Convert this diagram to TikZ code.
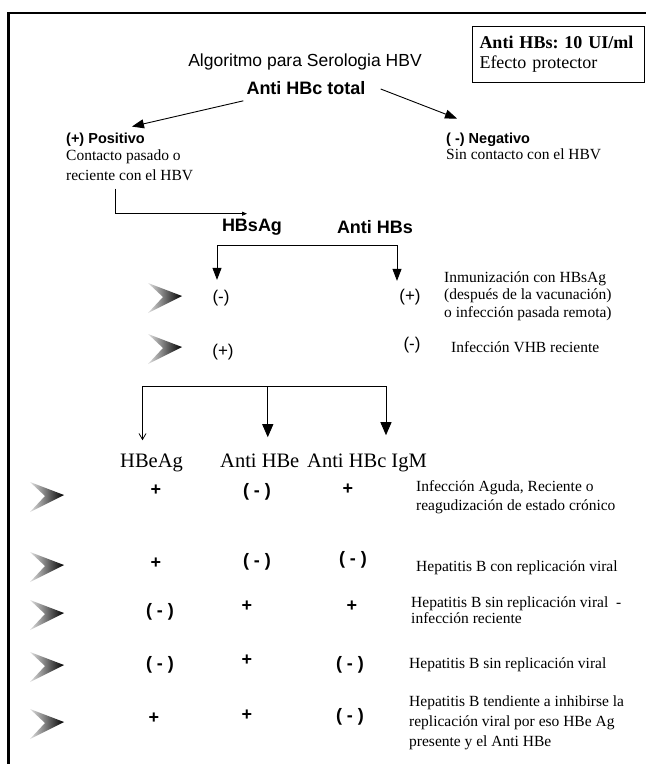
\documentclass[tikz,border=0pt]{standalone}
\usepackage{fontspec}
\setmainfont{Liberation Serif}
\setsansfont{Liberation Sans}
\frenchspacing
\usetikzlibrary{
    arrows.meta,
    calc
}
\tikzset {
    frame/.style = {line width = 2.2pt},
    heading/.style = {font = \sffamily\fontsize{17.5}{21}\selectfont, inner sep = 0pt},
    marker/.style = {font = \sffamily\bfseries\fontsize{18}{20}\selectfont, inner sep = 0pt},
    branch/.style = {font = \sffamily\bfseries\fontsize{14.5}{17}\selectfont, anchor = west, inner sep = 0pt},
    note/.style = {font = \fontsize{15.5}{19}\selectfont, align = left, anchor = west, inner sep = 0pt},
    column/.style = {font = \fontsize{20.5}{23}\selectfont, anchor = base west, inner sep = 0pt},
    sign/.style = {font = \sffamily\bfseries\fontsize{18}{20}\selectfont, inner sep = 0pt},
    plain sign/.style = {font = \sffamily\fontsize{17}{19}\selectfont, inner sep = 0pt},
    %
    link/.style = {line width = 0.9pt, -{Triangle[length = 12pt, width = 9pt]}},
    big link/.style = {line width = 0.9pt, -{Triangle[length = 13pt, width = 11pt]}},
    small link/.style = {line width = 0.8pt, -{Triangle[length = 5pt, width = 4pt]}},
    thin link/.style = {line width = 0.8pt, -{Straight Barb[length = 6pt, width = 7pt]}},
    chevron/.pic = {
        \shade[left color = gray!25, right color = black]
            (-34, -13) -- (0, 0) -- (-34, 17) -- (-19, 1) -- cycle;
    }
}

\begin{document}
\begin{tikzpicture}[x = 1pt, y = -1pt]
    \useasboundingbox (0, 0) rectangle (646, 764);
    \draw[frame] (646, 13) -- (8.5, 13) -- (8.5, 764);

    \node (prot) [draw, line width = 1pt, anchor = north west, align = left,
        text width = 158pt, inner xsep = 7pt, inner ysep = 4pt, minimum height = 56pt,
        font = \fontsize{18}{20}\selectfont] at (472, 26)
        {\textbf{Anti HBs: 10 UI/ml}\\Efecto protector};

    \node (title) [heading] at (305, 62) {Algoritmo para Serologia HBV};
    \node (hbc) [marker] at (306, 88) {Anti HBc total};

    \node (pos) [branch] at (66, 140) {(+) Positivo};
    \node (posd) [note, font = \fontsize{15.5}{20}\selectfont] at (66, 165)
        {Contacto pasado o\\reciente con el HBV};
    \node (neg) [branch] at (446, 140) {( -) Negativo};
    \node (negd) [note] at (446, 154) {Sin contacto con el HBV};

    \draw[link] ([xshift = -3pt, yshift = -6pt]hbc.south west) -- ([xshift = -13pt, yshift = 6.5pt]pos.north east);
    \draw[link] ([xshift = 15pt, yshift = -1pt]hbc.east) -- ([xshift = 11pt, yshift = 14.5pt]neg.north west);

    \node (hbsag) [marker] at (252, 227) {HBsAg};
    \node (antihbs) [marker] at (375, 227) {Anti HBs};
    \draw[small link] ([xshift = 49pt, yshift = -8pt]posd.south west) |- ([xshift = -5pt, yshift = 5pt]hbsag.north);

    % HBsAg / Anti HBs
    \node (ma) [plain sign] at (221, 298) {(-)};
    \node (mb) [plain sign] at (410, 297) {(+)};
    \node (na) [note, font = \fontsize{15.5}{17.5}\selectfont] at (444, 296)
        {Inmunización con HBsAg\\(después de la vacunación)\\o infección pasada remota)};
    \node (pa) [plain sign] at (223, 352) {(+)};
    \node (pb) [plain sign] at (412, 345) {(-)};
    \node (nb) [note] at (451, 347) {Infección VHB reciente};
    \pic at (182, 296) {chevron};
    \pic at (182, 347) {chevron};

    \coordinate (fork) at (305, 245);
    \draw[link] (fork) -| ([xshift = -4pt, yshift = 10pt]ma.north);
    \draw[link] (fork) -| ([xshift = -13pt, yshift = 8pt]mb.north);

    % marcadores e
    \node (hbeag) [column] at (120, 467) {HBeAg};
    \node (antihbe) [column] at (220, 467) {Anti HBe};
    \node (igm) [column] at (307, 467) {Anti HBc IgM};

    \coordinate (fork2) at (263, 386);
    \draw[thin link] (fork2) -| ([xshift = -9pt, yshift = 13pt]hbeag.north);
    \draw[big link] (fork2) -| ([xshift = 8pt, yshift = 16pt]antihbe.north);
    \draw[big link] (fork2) -| ([xshift = 19pt, yshift = 18pt]igm.north);

    \foreach \y in {495, 565, 613, 665, 722}
        \pic at (64, \y) {chevron};

    \node (r1a) [sign] at (156, 490) {+};
    \node (r1b) [sign] at (257, 492) {( - )};
    \node (r1c) [sign] at (348, 489) {+};
    \node (n1) [note] at (416, 497) {Infección Aguda, Reciente o\\reagudización de estado crónico};

    \node (r2a) [sign] at (156, 563) {+};
    \node (r2b) [sign] at (257, 562) {( - )};
    \node (r2c) [sign] at (353, 560) {( - )};
    \node (n2) [note] at (416, 568) {Hepatitis B con replicación viral};

    \node (r3a) [sign] at (160, 612) {( - )};
    \node (r3b) [sign] at (247, 606) {+};
    \node (r3c) [sign] at (352, 606) {+};
    \node (n3) [note, font = \fontsize{15.5}{16.5}\selectfont] at (411, 610)
        {Hepatitis B sin replicación viral\ \ -\\infección reciente};

    \node (r4a) [sign] at (160, 665) {( - )};
    \node (r4b) [sign] at (247, 660) {+};
    \node (r4c) [sign] at (350, 665) {( - )};
    \node (n4) [note] at (409, 665) {Hepatitis B sin replicación viral};

    \node (r5a) [sign] at (154, 718) {+};
    \node (r5b) [sign] at (247, 715) {+};
    \node (r5c) [sign] at (350, 717) {( - )};
    \node (n5) [note, font = \fontsize{15.5}{20}\selectfont] at (409, 723)
        {Hepatitis B tendiente a inhibirse la\\replicación viral\ por eso HBe Ag\\presente y el Anti HBe};
\end{tikzpicture}
\end{document}
